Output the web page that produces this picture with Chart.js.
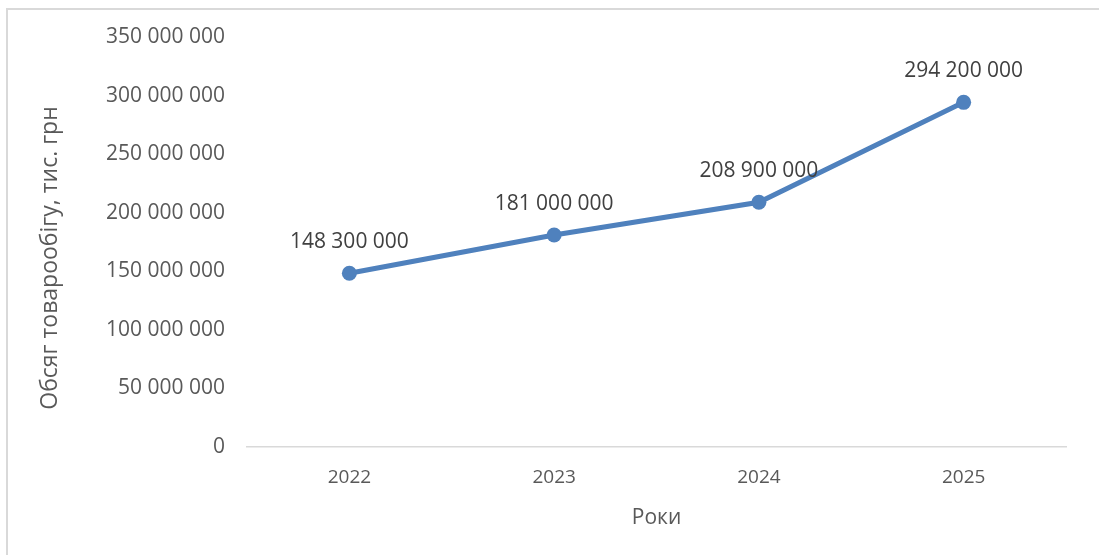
<!DOCTYPE html>
<html>
<head>
<meta charset="utf-8">
<script src="https://cdn.jsdelivr.net/npm/chart.js@4/dist/chart.umd.min.js"></script>
<style>
  html, body { margin: 0; padding: 0; background: #fff; }
  #wrap { width: 1099px; height: 555px; position: relative; }
</style>
</head>
<body>
<div id="wrap"><canvas id="c" width="1099" height="555"></canvas></div>
<script>
const categories = ['2022', '2023', '2024', '2025'];
const turnover = [148300000, 181000000, 208900000, 294200000];
const yTickMin = 0;
const yTickMax = 350000000;
const yTickStep = 50000000;
const yAxisTitle = 'Обсяг товарообігу, тис. грн';
const xAxisTitle = 'Роки';

const FONT = '"Open Sans", "Noto Sans", sans-serif';
const fmt = v => String(Math.round(v)).replace(/\B(?=(\d{3})+(?!\d))/g, ' ');

const frame = {
  id: 'frame',
  beforeDraw(chart) {
    const ctx = chart.ctx;
    ctx.save();
    ctx.fillStyle = '#fff';
    ctx.fillRect(0, 0, chart.width, chart.height);
    ctx.strokeStyle = '#d9d9d9';
    ctx.lineWidth = 2;
    ctx.beginPath();
    ctx.moveTo(7, 555);
    ctx.lineTo(7, 9);
    ctx.lineTo(1099, 9);
    ctx.stroke();
    ctx.restore();
  }
};

const labelsAndTitles = {
  id: 'labelsAndTitles',
  afterDatasetsDraw(chart) {
    const ctx = chart.ctx;
    const meta = chart.getDatasetMeta(0);
    ctx.save();
    ctx.font = '21px ' + FONT;
    ctx.fillStyle = '#404040';
    ctx.textAlign = 'center';
    ctx.textBaseline = 'middle';
    meta.data.forEach((pt, i) => {
      ctx.fillText(fmt(chart.data.datasets[0].data[i]), pt.x, pt.y - 31);
    });
    // axis titles
    const area = chart.chartArea;
    ctx.fillStyle = '#595959';
    ctx.font = '21px ' + FONT;
    ctx.fillText(xAxisTitle, (area.left + area.right) / 2, 518);
    ctx.font = '23px ' + FONT;
    ctx.translate(50, 258);
    ctx.rotate(-Math.PI / 2);
    ctx.fillText(yAxisTitle, 0, 0);
    ctx.restore();
  }
};

new Chart(document.getElementById('c'), {
  type: 'line',
  data: {
    labels: categories,
    datasets: [{
      data: turnover,
      borderColor: '#4f81bd',
      backgroundColor: '#4f81bd',
      borderWidth: 5,
      pointRadius: 7.5,
      pointHoverRadius: 7.5,
      pointBackgroundColor: '#4f81bd',
      pointBorderColor: '#4f81bd',
      pointBorderWidth: 0,
      tension: 0,
      fill: false
    }]
  },
  options: {
    responsive: false,
    animation: false,
    events: [],
    layout: { padding: { top: 37, right: 33, left: 0, bottom: 0 } },
    plugins: {
      legend: { display: false },
      tooltip: { enabled: false },
      title: { display: false }
    },
    scales: {
      x: {
        offset: true,
        grid: { display: false, drawTicks: false },
        border: { display: true, color: '#d9d9d9', width: 1.5 },
        ticks: {
          color: '#595959',
          font: { family: FONT, size: 19 },
          padding: 19
        },
        afterFit(scale) { scale.height = 108; }
      },
      y: {
        min: yTickMin,
        max: yTickMax,
        grid: { display: false, drawTicks: false },
        border: { display: false },
        ticks: {
          stepSize: yTickStep,
          color: '#595959',
          font: { family: FONT, size: 21 },
          padding: 22,
          callback: v => fmt(v)
        },
        afterFit(scale) { scale.width = 247; }
      }
    }
  },
  plugins: [frame, labelsAndTitles]
});
</script>
</body>
</html>
